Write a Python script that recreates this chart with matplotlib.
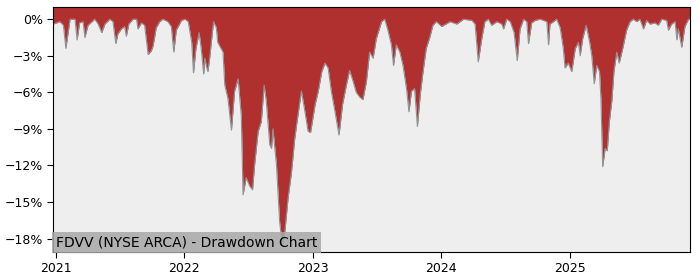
import pandas as pd
import matplotlib
matplotlib.use("Agg")
import matplotlib.pyplot as plt
import matplotlib.dates as mdates
from matplotlib.ticker import FuncFormatter

# drawdown points (percent below running peak)
dates = [
    "2020-12-24", "2020-12-29", "2021-01-12", "2021-01-22", "2021-01-29", "2021-02-10",
    "2021-02-24", "2021-03-02", "2021-03-09", "2021-03-19", "2021-03-24", "2021-04-02",
    "2021-04-21", "2021-05-01", "2021-05-11", "2021-05-20", "2021-06-03", "2021-06-12",
    "2021-06-20", "2021-06-26", "2021-07-06", "2021-07-15", "2021-07-20", "2021-07-27",
    "2021-08-08", "2021-08-18", "2021-08-22", "2021-09-01", "2021-09-10", "2021-09-20",
    "2021-09-29", "2021-10-04", "2021-10-13", "2021-10-23", "2021-11-01", "2021-11-15",
    "2021-11-25", "2021-12-02", "2021-12-09", "2021-12-24", "2022-01-03",
    "2022-01-12", "2022-01-22", "2022-01-27", "2022-02-03", "2022-02-12", "2022-02-18",
    "2022-02-25", "2022-02-28", "2022-03-05", "2022-03-09", "2022-03-14", "2022-03-19",
    "2022-03-25", "2022-04-02", "2022-04-06", "2022-04-21", "2022-04-26", "2022-05-05",
    "2022-05-15", "2022-05-24", "2022-06-03", "2022-06-12", "2022-06-17", "2022-06-26",
    "2022-07-06", "2022-07-14", "2022-07-20", "2022-07-30", "2022-08-08", "2022-08-16",
    "2022-08-22", "2022-09-01", "2022-09-06", "2022-09-10", "2022-09-20", "2022-09-29",
    "2022-10-07", "2022-10-14", "2022-10-23", "2022-11-02", "2022-11-11", "2022-11-20",
    "2022-11-30", "2022-12-09", "2022-12-19", "2022-12-26",
    "2023-01-08", "2023-01-17", "2023-01-27", "2023-02-05", "2023-02-14", "2023-02-23",
    "2023-03-05", "2023-03-17", "2023-03-27", "2023-04-07", "2023-04-16", "2023-04-26",
    "2023-05-05", "2023-05-15", "2023-05-24", "2023-06-03", "2023-06-12", "2023-06-22",
    "2023-07-01", "2023-07-16", "2023-07-25", "2023-08-03", "2023-08-13", "2023-08-19",
    "2023-08-27", "2023-09-06", "2023-09-15", "2023-09-25", "2023-10-02", "2023-10-09",
    "2023-10-18", "2023-10-26", "2023-11-03", "2023-11-11", "2023-11-20", "2023-11-30",
    "2023-12-09", "2023-12-19",
    "2024-01-03", "2024-01-27", "2024-02-15", "2024-03-05", "2024-03-29", "2024-04-07",
    "2024-04-16", "2024-04-26", "2024-05-05", "2024-05-15", "2024-05-24", "2024-06-08",
    "2024-06-22", "2024-06-27", "2024-07-06", "2024-07-16", "2024-07-27", "2024-08-05",
    "2024-08-13", "2024-08-23", "2024-09-01", "2024-09-06", "2024-09-15", "2024-09-25",
    "2024-10-09", "2024-10-28", "2024-11-02", "2024-11-06", "2024-11-16", "2024-11-25",
    "2024-12-05", "2024-12-14", "2024-12-19", "2024-12-28",
    "2025-01-07", "2025-01-17", "2025-01-26", "2025-01-31", "2025-02-07", "2025-02-17",
    "2025-02-27", "2025-03-05", "2025-03-12", "2025-03-19", "2025-03-27", "2025-03-31",
    "2025-04-05", "2025-04-12", "2025-04-18", "2025-04-24", "2025-05-01", "2025-05-07",
    "2025-05-15", "2025-05-22", "2025-06-01", "2025-06-12", "2025-06-22", "2025-07-01",
    "2025-07-11", "2025-07-20", "2025-07-30", "2025-08-08", "2025-08-18", "2025-09-01",
    "2025-09-10", "2025-09-20", "2025-10-04", "2025-10-09", "2025-10-18", "2025-10-28",
    "2025-11-02", "2025-11-06", "2025-11-16", "2025-11-25", "2025-12-05", "2025-12-08",
]
drawdown = [
    -0.4, -0.35, -0.2, -0.5, -2.4, 0.0,
    0.0, -1.7, -0.3, -0.2, -1.5, -0.5,
    0.0, -0.4, -1.1, -0.4, 0.0, -0.2,
    -2.0, -1.2, -0.8, -0.6, -1.4, -0.4,
    0.0, 0.0, -0.8, -0.3, -0.5, -2.9,
    -2.6, -2.2, -0.7, -0.2, 0.0, -0.2,
    -0.6, -2.7, -0.9, -0.1, 0.0,
    -0.2, -1.9, -4.4, -2.4, -1.1, -2.4,
    -4.5, -3.2, -3.9, -4.3, -3.2, -1.8,
    -0.2, -0.7, -1.9, -2.7, -5.4, -6.5,
    -9.1, -5.9, -4.9, -7.9, -14.4, -13.0,
    -13.7, -14.0, -11.9, -9.2, -8.4, -5.4,
    -6.7, -10.3, -10.6, -9.0, -11.9, -16.6,
    -18.6, -17.4, -14.7, -12.5, -9.8, -7.9,
    -5.9, -7.4, -9.2, -9.3,
    -7.0, -5.9, -4.3, -3.6, -4.0, -5.9,
    -7.5, -9.5, -7.0, -5.4, -4.2, -5.1,
    -6.0, -6.4, -6.6, -5.1, -2.7, -3.2,
    -1.6, -0.2, 0.0, -0.9, -2.1, -3.8,
    -2.1, -2.7, -3.8, -5.7, -7.6, -5.9,
    -5.7, -8.8, -6.2, -4.3, -2.4, -1.5,
    -0.5, -0.2,
    -0.6, -0.2, -0.4, 0.0, -0.1, -0.4,
    -3.5, -1.6, -0.2, 0.0, -0.5, -0.2,
    -0.4, -0.8, 0.0, -0.2, -1.1, -3.4,
    -0.8, 0.0, -0.2, -2.0, -0.3, -0.1,
    0.0, -0.2, -2.1, -0.4, -0.2, 0.0,
    -0.7, -2.4, -4.0, -3.6,
    -4.3, -2.4, -1.9, -3.0, -1.6, -0.5,
    -1.9, -3.0, -5.3, -3.8, -4.3, -6.5,
    -12.1, -10.6, -10.8, -8.4, -6.7, -4.3,
    -2.7, -3.6, -2.4, -0.9, -0.2, 0.0,
    -0.2, 0.0, -0.8, -0.1, -0.4, -0.3,
    -0.5, 0.0, -0.1, -0.9, -0.4, -0.2,
    -1.7, -0.8, -2.3, -0.6, 0.0, 0.0,
]
year_ticks = ["2021", "2022", "2023", "2024", "2025"]
y_ticks = [0, -3, -6, -9, -12, -15, -18]
title = "FDVV (NYSE ARCA) - Drawdown Chart"

df = pd.DataFrame({"date": pd.to_datetime(dates), "dd": drawdown})

fig = plt.figure(figsize=(7, 2.8), dpi=100)
ax = fig.add_axes([0.076, 0.1, 0.909, 0.875])
ax.set_facecolor("#eeeeee")

top = 1.0
ax.fill_between(df["date"], df["dd"], top, color="#b03030", linewidth=0)
ax.plot(df["date"], df["dd"], color="#8a9598", linewidth=0.8)

ax.set_xlim(df["date"].iloc[0], df["date"].iloc[-1])
ax.set_ylim(-19.1, top)
ax.set_yticks(y_ticks)
ax.yaxis.set_major_formatter(FuncFormatter(lambda v, p: f"{int(v)}%".replace("-", "\u2212")))
ax.set_xticks(pd.to_datetime([y + "-01-01" for y in year_ticks]))
ax.xaxis.set_major_formatter(mdates.DateFormatter("%Y"))
ax.tick_params(labelsize=9, length=4)

ax.text(0.004, 0.012, title, transform=ax.transAxes, fontsize=10, va="bottom", ha="left",
        bbox=dict(facecolor="#a8a8a8", edgecolor="none", alpha=0.85, pad=2.5))

fig.savefig("out.png", dpi=100)
